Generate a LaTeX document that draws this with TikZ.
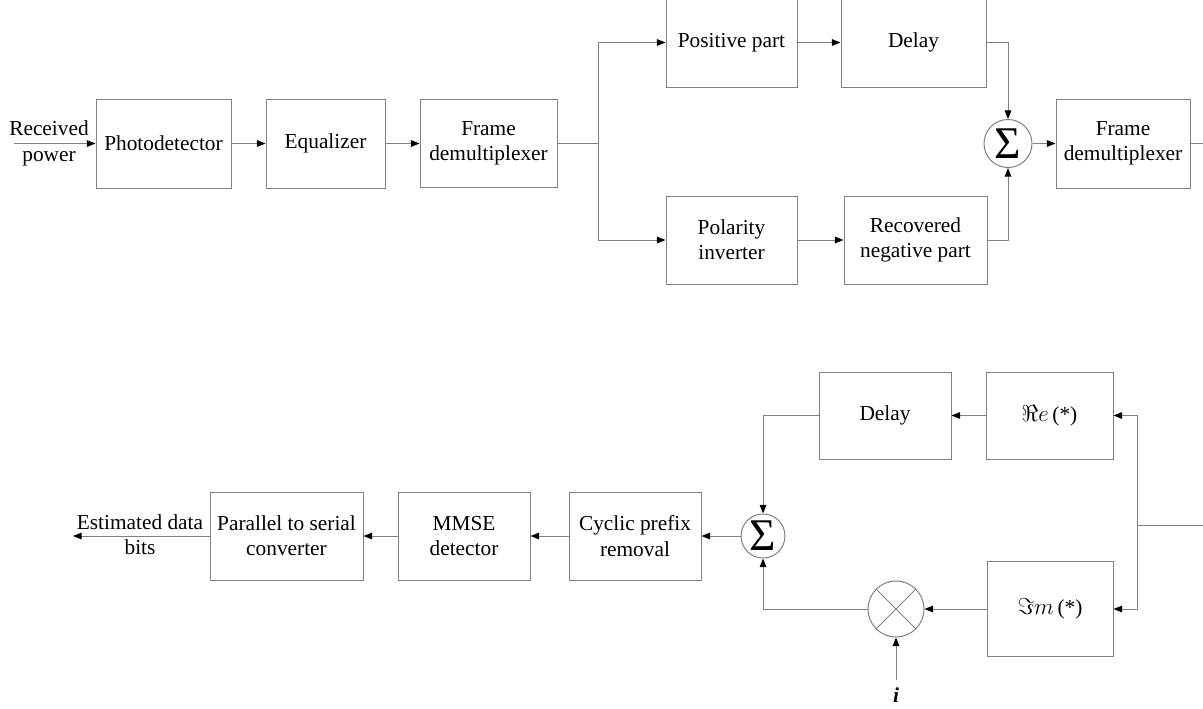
\documentclass[tikz,border=0pt]{standalone}
\usepackage{fontspec}
\setmainfont{Liberation Serif}
\usetikzlibrary{arrows.meta}
\newlength\pu
\setlength\pu{0.75pt}
\newcommand\bigsigma{{\fontsize{34}{34}\selectfont Σ}}
\begin{document}
\begin{tikzpicture}[x=0.75pt,y=-0.75pt,
  font=\fontsize{16}{19}\selectfont,
  line width=0.75pt,
  wire/.style={draw=black!50},
  arr/.style={wire,-{Triangle[length=6.5pt,width=5pt,color=black]}},
  blk/.style={draw=black!50,align=center,inner sep=0pt},
  summer/.style={circle,draw=black!50,inner sep=0pt,minimum size=#1},
  lbl/.style={align=center,inner sep=0pt}]
\useasboundingbox (0,0) rectangle (1203,708);
\clip (0,0) rectangle (1203,708);

% ---- receiver front end ----
\node[lbl] (rx) at (49,143.5) {Received\\power};
\coordinate (rxin) at (14,143.5);
\node[blk,minimum width={135*\pu},minimum height={89*\pu}] (pd) at (163.5,143.5) {Photodetector};
\node[blk,minimum width={119*\pu},minimum height={89*\pu}] (eq) at (325.5,143.5) {Equalizer};
\node[blk,minimum width={137*\pu},minimum height={88*\pu}] (fd1) at (488.5,143.5) {Frame\\demultiplexer};
\coordinate (split) at (598,143.5);
\node[blk,minimum width={131*\pu},minimum height={89*\pu}] (pos) at (731.5,42.5) {Positive part};
\node[blk,minimum width={145*\pu},minimum height={89*\pu}] (del1) at (913.5,42.5) {Delay};
\node[blk,minimum width={131*\pu},minimum height={88*\pu}] (pol) at (731.5,240) {Polarity\\inverter};
\node[blk,minimum width={143*\pu},minimum height={88*\pu}] (rec) at (915.5,240) {Recovered\\negative part};
\node[summer={48*\pu}] (sum1) at (1008,143.5) {\bigsigma};
\node[blk,minimum width={134*\pu},minimum height={89*\pu}] (fd2) at (1123,143.5) {Frame\\demultiplexer};
\coordinate (out1) at (1203,143.5);

\draw[arr] (rxin) -- (pd.west);
\draw[arr] (pd) -- (eq);
\draw[arr] (eq) -- (fd1);
\draw[wire] (fd1.east) -- (split);
\draw[arr] (split) |- (pos.west);
\draw[arr] (split) |- (pol.west);
\draw[arr] (pos) -- (del1);
\draw[arr] (pol) -- (rec);
\draw[arr] (del1.east) -| (sum1.north);
\draw[arr] (rec.east) -| (sum1.south);
\draw[arr] (sum1) -- (fd2);
\draw[wire] (fd2.east) -- (out1);

% ---- OFDM detection back end ----
\coordinate (in2) at (1203,525);
\coordinate (br) at (1137,525);
\node[blk,minimum width={127*\pu},minimum height={87*\pu}] (re) at (1049.5,415.5) {$\Re e$\,(*)};
\node[blk,minimum width={126*\pu},minimum height={95*\pu}] (im) at (1050,609) {$\Im m$\,(*)};
\node[blk,minimum width={132*\pu},minimum height={87*\pu}] (del2) at (885,415.5) {Delay};
\node[summer={44*\pu}] (sum2) at (763,536) {\bigsigma};
\node[summer={56*\pu}] (mul) at (896,609) {};
\draw[wire] (mul.45) -- (mul.225) (mul.135) -- (mul.315);
\node[lbl] (iu) at (896,695) {\textbf{\textit{i}}};
\coordinate (ifeed) at (896,680);
\node[blk,minimum width={132*\pu},minimum height={88*\pu}] (cp) at (635,536) {Cyclic prefix\\removal};
\node[blk,minimum width={132*\pu},minimum height={88*\pu}] (mmse) at (464,536) {MMSE\\detector};
\node[blk,minimum width={153*\pu},minimum height={88*\pu}] (ps) at (286.5,536) {Parallel to serial\\converter};
\node[lbl] (est) at (140,535) {Estimated data\\bits};
\coordinate (out2) at (73,536);

\draw[wire] (in2) -- (br);
\draw[arr] (br) |- (re.east);
\draw[arr] (br) |- (im.east);
\draw[arr] (re) -- (del2);
\draw[arr] (del2.west) -| (sum2.north);
\draw[arr] (im) -- (mul);
\draw[arr] (mul.west) -| (sum2.south);
\draw[arr] (ifeed) -- (mul.south);
\draw[arr] (sum2) -- (cp);
\draw[arr] (cp) -- (mmse);
\draw[arr] (mmse) -- (ps);
\draw[arr] (ps.west) -- (out2);
\end{tikzpicture}
\end{document}
